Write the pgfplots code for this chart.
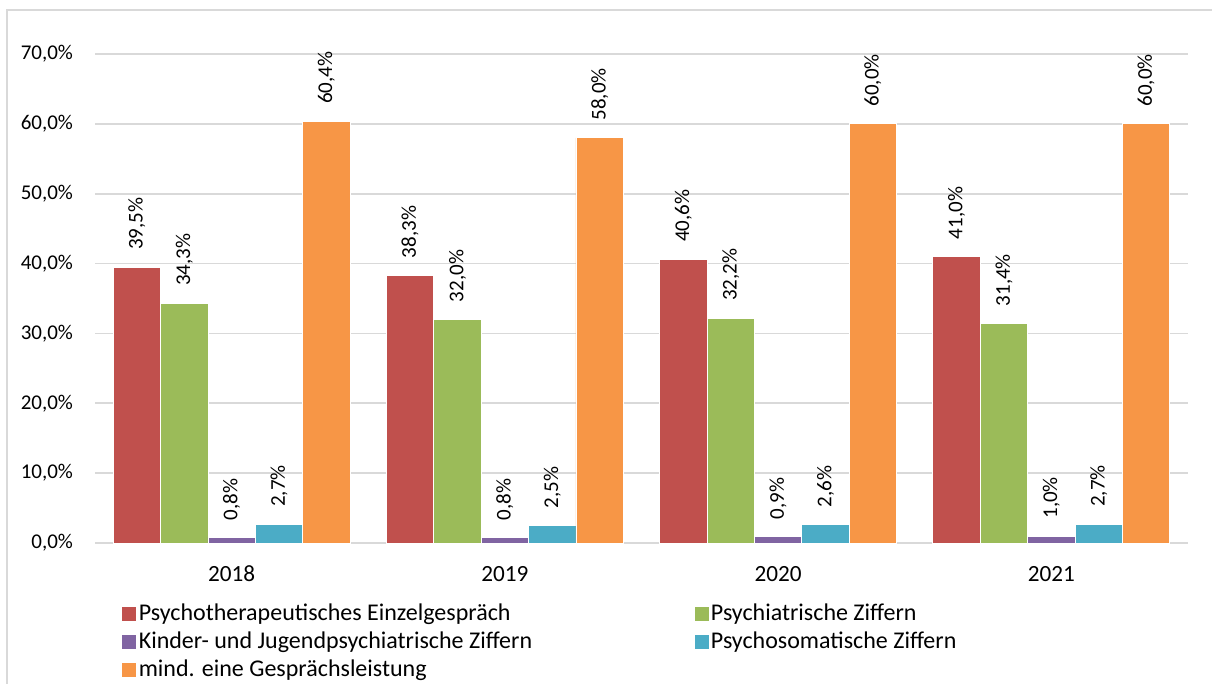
\documentclass[border=0pt]{standalone}
\usepackage{fontspec}
\setmainfont{Carlito}
\usepackage{pgfplots}
\pgfplotsset{compat=1.18}
\definecolor{cA}{HTML}{C0504D}
\definecolor{cB}{HTML}{9BBB59}
\definecolor{cC}{HTML}{8064A2}
\definecolor{cD}{HTML}{4BACC6}
\definecolor{cE}{HTML}{F79646}
\definecolor{gridgray}{HTML}{D9D9D9}
\begin{document}
\begin{tikzpicture}[x=1pt,y=1pt]
\useasboundingbox (0,0) rectangle (606,342);
\fill[white] (0,0) rectangle (606,342);
\draw[gridgray, line width=0.8pt] (3.5,-1) -- (3.5,337) -- (607,337);
\begin{axis}[
  at={(47.5pt,70.5pt)}, anchor=south west,
  scale only axis, width=546.5pt, height=244.5pt,
  ybar=0pt, bar width=23.7pt,
  ymin=0, ymax=70, xmin=-0.5, xmax=3.5,
  ytick={0,10,...,70}, xtick={0,1,2,3},
  xticklabels={2018,2019,2020,2021},
  /pgf/number format/assume math mode=true,
  yticklabel={\pgfmathprintnumber[fixed,fixed zerofill,precision=1,use comma]{\tick}\%},
  ymajorgrids, major grid style={gridgray, line width=0.8pt},
  axis line style={draw=none},
  major tick length=0pt, tick style={draw=none},
  yticklabel style={font=\fontsize{10.5}{12}\selectfont, text=black, xshift=-7.5pt},
  xticklabel style={font=\fontsize{11.6}{13}\selectfont, text=black, yshift=-8pt},
  clip=false,
  nodes near coords={\pgfmathprintnumber[fixed,fixed zerofill,precision=1,use comma]{\pgfplotspointmeta}\%},
  every node near coord/.append style={rotate=90, anchor=west, inner xsep=8.5pt, inner ysep=0pt, font=\fontsize{10.5}{12}\selectfont, text=black},
  legend columns=2,
  legend image code/.code={\fill[#1,draw=none] (0pt,-3.5pt) rectangle (7pt,3.5pt);},
  legend style={at={(0.0247,-0.120)}, anchor=north west, draw=none, fill=none,
    inner sep=0pt, row sep=1.7pt,
    font=\fontsize{12}{14}\selectfont,
    nodes={inner xsep=1.2pt, inner ysep=0.5pt, text height=8.5pt, text depth=2.8pt},
    /tikz/every even column/.append style={column sep=80pt}},
  legend cell align=left,
]
\addplot[fill=cA, draw=white, line width=0.4pt] coordinates {(0,39.5) (1,38.3) (2,40.6) (3,41.0)};
\addlegendentry{Psychotherapeutisches Einzelgespräch}
\addplot[fill=cB, draw=white, line width=0.4pt] coordinates {(0,34.3) (1,32.0) (2,32.2) (3,31.4)};
\addlegendentry{Psychiatrische Ziffern}
\addplot[fill=cC, draw=white, line width=0.4pt] coordinates {(0,0.8) (1,0.8) (2,0.9) (3,1.0)};
\addlegendentry{Kinder- und Jugendpsychiatrische Ziffern}
\addplot[fill=cD, draw=white, line width=0.4pt] coordinates {(0,2.7) (1,2.5) (2,2.6) (3,2.7)};
\addlegendentry{Psychosomatische Ziffern}
\addplot[fill=cE, draw=white, line width=0.4pt] coordinates {(0,60.4) (1,58.0) (2,60.0) (3,60.0)};
\addlegendentry{mind. eine Gesprächsleistung}
\end{axis}
\end{tikzpicture}
\end{document}
